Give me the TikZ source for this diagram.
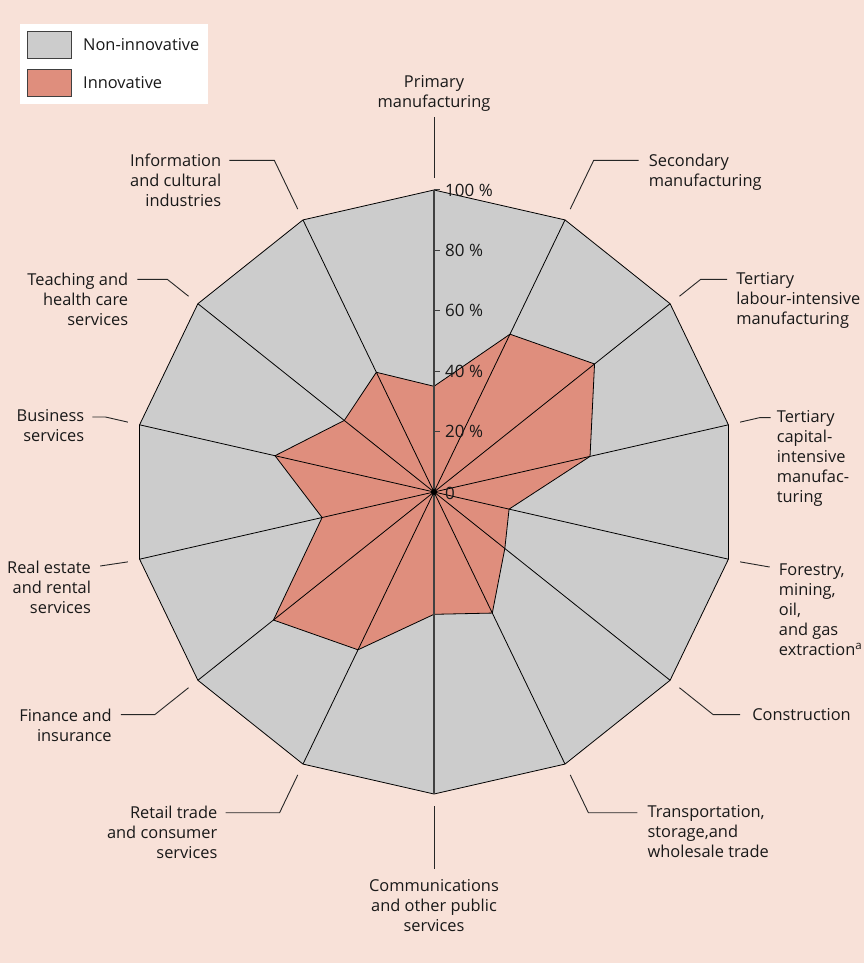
\documentclass[tikz,border=0pt]{standalone}
\usepackage{fontspec}
\setmainfont{Open Sans}
\definecolor{bgpink}{RGB}{248,225,216}
\definecolor{noninnov}{RGB}{204,204,204}
\definecolor{innov}{RGB}{223,142,125}
\definecolor{axisgrey}{RGB}{64,64,64}
\tikzset{
  lbl/.style={inner sep=0pt, text=black!90, font=\fontsize{16.4}{20}\selectfont},
  ticklbl/.style={lbl, font=\fontsize{17}{20}\selectfont},
  leader/.style={draw=black!85, line width=0.9pt},
  spoke/.style={draw=black, line width=0.8pt},
}

\begin{document}
\begin{tikzpicture}[x=1pt,y=1pt]
    \fill[bgpink] (-434,-471) rectangle (430,492);
    \useasboundingbox (-434,-471) rectangle (430,492);
    % legend
    \fill[white] (-414,388) rectangle (-226,468);
    \filldraw[fill=noninnov, draw=black!75, line width=1pt] (-406,433) rectangle (-362,460);
    \filldraw[fill=innov, draw=black!75, line width=1pt] (-406,395) rectangle (-362,422);
    \node[lbl, anchor=west] (keynon) at (-351,447) {Non-innovative};
    \node[lbl, anchor=west] (keyinn) at (-351,409) {Innovative};
    % the 14 sectors
    \coordinate (c) at (0,0);
    \foreach \v [count=\i from 0] in {35,58,68,53,25.5,30,44.5,40.5,58,68,38,54,38,44} {
        \coordinate (o\i) at ({90-\i*360/14}:302);
        \coordinate (r\i) at ({90-\i*360/14}:{\v*3.02});
        \coordinate (s\i) at ({90-\i*360/14}:314);
    }
    \filldraw[fill=noninnov, spoke] (o0) \foreach \i in {1,...,13} {-- (o\i)} -- cycle;
    \filldraw[fill=innov, spoke] (r0) \foreach \i in {1,...,13} {-- (r\i)} -- cycle;
    \foreach \i in {1,2,3,4,5,6,8,9,10,11,12,13}
        \draw[spoke] (c) -- (o\i);
    \draw[axisgrey, line width=1.5pt] (o7) -- (o0);
    % scale
    \foreach \p in {20,40,...,100} {
        \draw[axisgrey, line width=1pt] (0,{\p*3.02}) -- (6,{\p*3.02});
        \node[ticklbl, anchor=west] at (11,{\p*3.02}) {\p\ \%};
    }
    \node[ticklbl, anchor=west] at (11,-1) {0};
    \fill (c) circle (3pt);
    % leaders and labels
    \coordinate (e0) at (90:375);
    \draw[leader] (s0) -- (e0);
    \node[lbl, align=center, anchor=north] (l0) at ([shift={(0,42)}]e0) {Primary\\manufacturing};

    \coordinate (k1) at (64.29:368);
    \path (k1) ++(45,0) coordinate (e1);
    \draw[leader] (s1) -- (k1) -- (e1);
    \node[lbl, align=left, anchor=north west] (l1) at ([shift={(10,7)}]e1) {Secondary\\manufacturing};

    \coordinate (k2) at (38.57:341);
    \path (k2) ++(26.5,0) coordinate (e2);
    \draw[leader] (s2) -- (k2) -- (e2);
    \node[lbl, align=left, anchor=north west] (l2) at ([shift={(9,7)}]e2) {Tertiary\\labour-intensive\\manufacturing};

    \coordinate (k3) at (12.86:334);
    \path (k3) ++(11,0) coordinate (e3);
    \draw[leader] (s3) -- (k3) -- (e3);
    \node[lbl, align=left, anchor=north west] (l3) at ([shift={(6,7)}]e3) {Tertiary\\capital-\\intensive\\manufac-\\turing};

    \coordinate (e4) at (-12.6:344);
    \draw[leader] (s4) -- (e4);
    \node[lbl, align=left, anchor=north west] (l4) at ([shift={(9,3)}]e4) {Forestry,\\mining,\\oil,\\and gas\\extraction\textsuperscript{a}};

    \coordinate (k5) at (-38.57:357);
    \path (k5) ++(27,0) coordinate (e5);
    \draw[leader] (s5) -- (k5) -- (e5);
    \node[lbl, anchor=west] (l5) at ([shift={(12,0)}]e5) {Construction};

    \coordinate (k6) at (-64.29:356);
    \path (k6) ++(49,0) coordinate (e6);
    \draw[leader] (s6) -- (k6) -- (e6);
    \node[lbl, align=left, anchor=north west] (l6) at ([shift={(10,7)}]e6) {Transportation,\\storage,and\\wholesale trade};

    \coordinate (e7) at (-90:377);
    \draw[leader] (s7) -- (e7);
    \node[lbl, align=center, anchor=north] (l7) at ([shift={(0,-10)}]e7) {Communications\\and other public\\services};

    \coordinate (k8) at (-115.71:356);
    \path (k8) ++(-54,0) coordinate (e8);
    \draw[leader] (s8) -- (k8) -- (e8);
    \node[lbl, align=right, anchor=north east] (l8) at ([shift={(-8,7)}]e8) {Retail trade\\and consumer\\services};

    \coordinate (k9) at (-141.43:357);
    \path (k9) ++(-34,0) coordinate (e9);
    \draw[leader] (s9) -- (k9) -- (e9);
    \node[lbl, align=right, anchor=north east] (l9) at ([shift={(-9,6)}]e9) {Finance and\\insurance};

    \coordinate (e10) at (-167.5:342);
    \draw[leader] (s10) -- (e10);
    \node[lbl, align=right, anchor=north east] (l10) at ([shift={(-9,5)}]e10) {Real estate\\and rental\\services};

    \coordinate (k11) at (167.14:337);
    \path (k11) ++(-13,0) coordinate (e11);
    \draw[leader] (s11) -- (k11) -- (e11);
    \node[lbl, align=right, anchor=north east] (l11) at ([shift={(-8,8)}]e11) {Business\\services};

    \coordinate (k12) at (141.43:341);
    \path (k12) ++(-30,0) coordinate (e12);
    \draw[leader] (s12) -- (k12) -- (e12);
    \node[lbl, align=right, anchor=north east] (l12) at ([shift={(-9,7)}]e12) {Teaching and\\health care\\services};

    \coordinate (k13) at (115.71:368);
    \path (k13) ++(-45,0) coordinate (e13);
    \draw[leader] (s13) -- (k13) -- (e13);
    \node[lbl, align=right, anchor=north east] (l13) at ([shift={(-8,7)}]e13) {Information\\and cultural\\industries};
\end{tikzpicture}
\end{document}
